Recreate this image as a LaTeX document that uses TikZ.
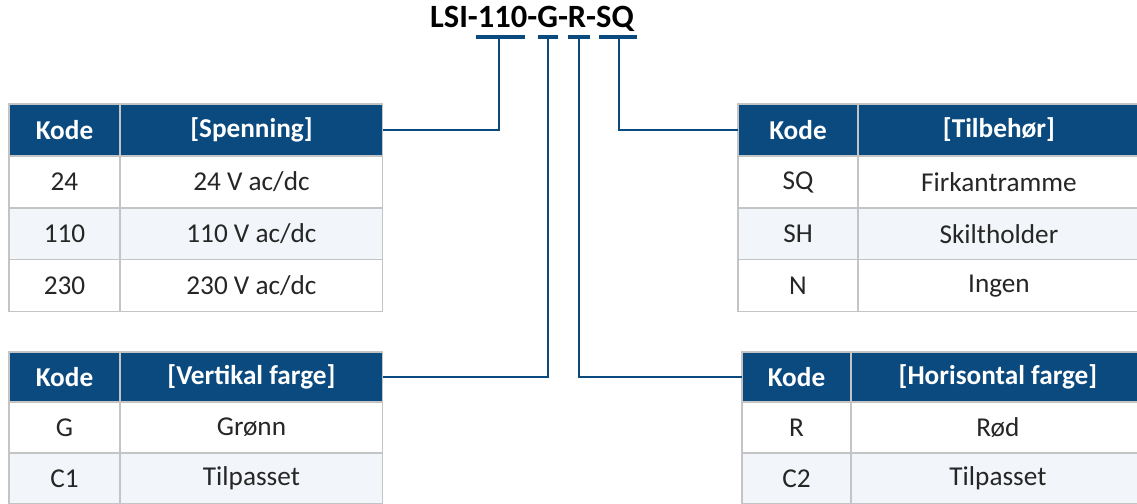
\documentclass[tikz,border=0pt]{standalone}
\usepackage{fontspec}
\setmainfont{Carlito}
\usetikzlibrary{positioning}

\definecolor{lsiblue}{HTML}{0B4A7F}
\definecolor{rowshade}{HTML}{F2F5F9}
\definecolor{gridgrey}{HTML}{C4C4C4}

\begin{document}
\begin{tikzpicture}[x=0.02cm,y=-0.02cm,node distance=0pt,
  cell/.style={rectangle,draw=gridgrey,line width=0.6pt,fill=white,inner sep=0pt,outer sep=0pt,
    minimum height=1.04cm,text=black!85,font=\fontsize{15.5}{18}\selectfont},
  head/.style={cell,fill=lsiblue,text=white,font=\fontsize{15.5}{18}\selectfont\bfseries},
  shade/.style={cell,fill=rowshade},
  link/.style={draw=lsiblue,line width=1.1pt},
  bar/.style={draw=lsiblue,line width=2.3pt}]

  \useasboundingbox (0,0) rectangle (1137,504);
  \clip (0,0) rectangle (1137,504);

  % code string
  \node[font=\fontsize{18.5}{22}\selectfont\bfseries] (code) at (532,19) {LSI-110-G-R-SQ};
  \draw[bar] (476,37) -- (525,37);
  \draw[bar] (538,37) -- (558,37);
  \draw[bar] (568,37) -- (590,37);
  \draw[bar] (599,37) -- (637,37);
  \coordinate (u110) at (499,37);
  \coordinate (ug) at (548,37);
  \coordinate (ur) at (579,37);
  \coordinate (usq) at (619,37);

  % spenning
  \node[head,minimum width=2.22cm,anchor=north west] (sk) at (9,104) {Kode};
  \node[head,minimum width=5.26cm,right=of sk] (sv) {[Spenning]};
  \node[cell,minimum width=2.22cm,below=of sk] (sk1) {24};
  \node[cell,minimum width=5.26cm,below=of sv] (sv1) {24 V ac/dc};
  \node[shade,minimum width=2.22cm,below=of sk1] (sk2) {110};
  \node[shade,minimum width=5.26cm,below=of sv1] (sv2) {110 V ac/dc};
  \node[cell,minimum width=2.22cm,below=of sk2] (sk3) {230};
  \node[cell,minimum width=5.26cm,below=of sv2] (sv3) {230 V ac/dc};

  % tilbehor
  \node[head,minimum width=2.4cm,anchor=north west] (tk) at (738,104) {Kode};
  \node[head,minimum width=5.64cm,right=of tk] (tv) {[Tilbehør]};
  \node[cell,minimum width=2.4cm,below=of tk] (tk1) {SQ};
  \node[cell,minimum width=5.64cm,below=of tv] (tv1) {Firkantramme};
  \node[shade,minimum width=2.4cm,below=of tk1] (tk2) {SH};
  \node[shade,minimum width=5.64cm,below=of tv1] (tv2) {Skiltholder};
  \node[cell,minimum width=2.4cm,below=of tk2] (tk3) {N};
  \node[cell,minimum width=5.64cm,below=of tv2] (tv3) {Ingen};

  % vertikal farge
  \node[head,minimum width=2.22cm,minimum height=1cm,anchor=north west] (vk) at (9,352) {Kode};
  \node[head,minimum width=5.26cm,minimum height=1cm,right=of vk] (vv) {[Vertikal farge]};
  \node[cell,minimum width=2.22cm,minimum height=1.02cm,below=of vk] (vk1) {G};
  \node[cell,minimum width=5.26cm,minimum height=1.02cm,below=of vv] (vv1) {Grønn};
  \node[shade,minimum width=2.22cm,minimum height=1.02cm,below=of vk1] (vk2) {C1};
  \node[shade,minimum width=5.26cm,minimum height=1.02cm,below=of vv1] (vv2) {Tilpasset};

  % horisontal farge
  \node[head,minimum width=2.18cm,minimum height=1cm,anchor=north west] (hk) at (742,352) {Kode};
  \node[head,minimum width=5.88cm,minimum height=1cm,right=of hk] (hv) {[Horisontal farge]};
  \node[cell,minimum width=2.18cm,minimum height=1.02cm,below=of hk] (hk1) {R};
  \node[cell,minimum width=5.88cm,minimum height=1.02cm,below=of hv] (hv1) {Rød};
  \node[shade,minimum width=2.18cm,minimum height=1.02cm,below=of hk1] (hk2) {C2};
  \node[shade,minimum width=5.88cm,minimum height=1.02cm,below=of hv1] (hv2) {Tilpasset};

  % connectors
  \draw[link] (u110) |- (sv.east);
  \draw[link] (ug) |- (vv.east);
  \draw[link] (ur) |- (hk.west);
  \draw[link] (usq) |- (tk.west);
\end{tikzpicture}
\end{document}
